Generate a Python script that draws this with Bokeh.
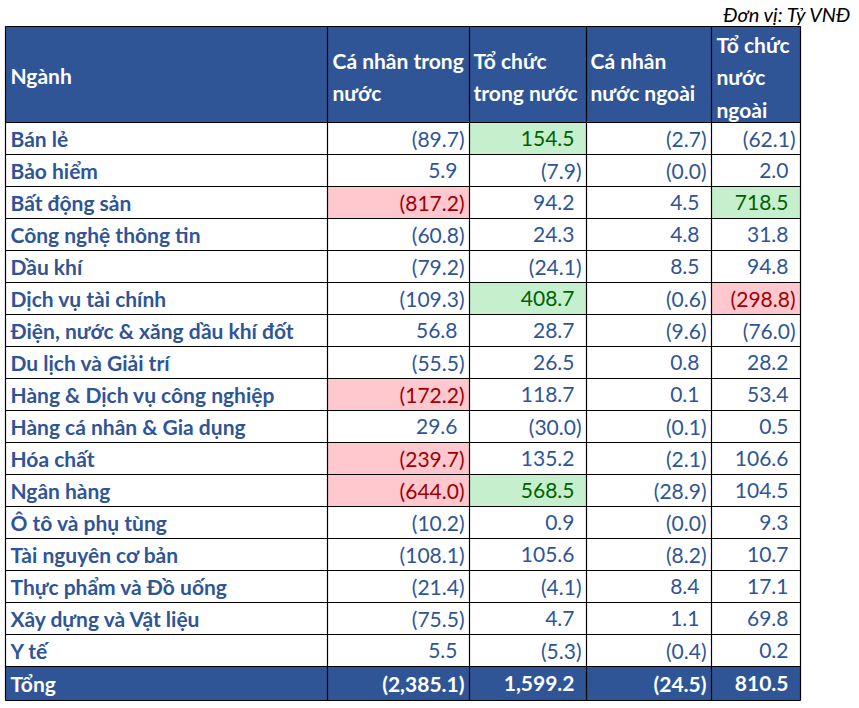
from bokeh.plotting import figure
from bokeh.models import Range1d, ColumnDataSource
from bokeh.core.properties import value
from bokeh.embed import file_html
from bokeh.resources import INLINE

# ---------------- data ----------------
categories = ["Bán lẻ", "Bảo hiểm", "Bất động sản", "Công nghệ thông tin", "Dầu khí",
              "Dịch vụ tài chính", "Điện, nước & xăng dầu khí đốt", "Du lịch và Giải trí",
              "Hàng & Dịch vụ công nghiệp", "Hàng cá nhân & Gia dụng", "Hóa chất",
              "Ngân hàng", "Ô tô và phụ tùng", "Tài nguyên cơ bản", "Thực phẩm và Đồ uống",
              "Xây dựng và Vật liệu", "Y tế"]
ca_nhan_trong_nuoc = [-89.7, 5.9, -817.2, -60.8, -79.2, -109.3, 56.8, -55.5, -172.2, 29.6,
                      -239.7, -644.0, -10.2, -108.1, -21.4, -75.5, 5.5]
to_chuc_trong_nuoc = [154.5, -7.9, 94.2, 24.3, -24.1, 408.7, 28.7, 26.5, 118.7, -30.0,
                      135.2, 568.5, 0.9, 105.6, -4.1, 4.7, -5.3]
ca_nhan_nuoc_ngoai = [-2.7, -0.0, 4.5, 4.8, 8.5, -0.6, -9.6, 0.8, 0.1, -0.1,
                      -2.1, -28.9, -0.0, -8.2, 8.4, 1.1, -0.4]
to_chuc_nuoc_ngoai = [-62.1, 2.0, 718.5, 31.8, 94.8, -298.8, -76.0, 28.2, 53.4, 0.5,
                      106.6, 104.5, 9.3, 10.7, 17.1, 69.8, 0.2]
totals = [-2385.1, 1599.2, -24.5, 810.5]
headers = ["Ngành", "Cá nhân trong\nnước", "Tổ chức\ntrong nước", "Cá nhân\nnước ngoài",
           "Tổ chức\nnước\nngoài"]
total_label = "Tổng"
unit_label = "Đơn vị: Tỷ VNĐ"
# highlighted cells: (row index, column index 1..4)
green_cells = [(0, 2), (5, 2), (11, 2), (2, 4)]
red_cells = [(2, 1), (8, 1), (10, 1), (11, 1), (5, 4)]

series = [ca_nhan_trong_nuoc, to_chuc_trong_nuoc, ca_nhan_nuoc_ngoai, to_chuc_nuoc_ngoai]

# ---------------- layout ----------------
col_edges = [5, 327, 469, 586, 711, 800]
top = 26
header_bottom = 122
row_h = 32
n = len(categories)
total_top = header_bottom + n * row_h
total_bottom = total_top + 34

HEADER_BG = "#2F5597"
TEXT_BLUE = "#2F5597"
GREEN_BG, GREEN_TX = "#C6EFCE", "#006100"
RED_BG, RED_TX = "#FFC7CE", "#9C0006"
FONT = "Lato"
FS = "21px"

p = figure(width=859, height=708, output_backend="svg", toolbar_location=None,
           x_range=Range1d(0, 859), y_range=Range1d(708, 0),
           min_border=0, outline_line_color=None)
p.axis.visible = False
p.grid.visible = False
p.background_fill_color = "white"


def fmt(v):
    s = "{:,.1f}".format(abs(v))
    return "(" + s + ")" if v < 0 or (v == 0 and str(v).startswith("-")) else s


# header & total background
p.quad(left=col_edges[0], right=col_edges[-1], top=top, bottom=header_bottom,
       fill_color=HEADER_BG, line_color=None)
p.quad(left=col_edges[0], right=col_edges[-1], top=total_top, bottom=total_bottom,
       fill_color=HEADER_BG, line_color=None)

# highlighted cells
for cells, col in ((green_cells, GREEN_BG), (red_cells, RED_BG)):
    p.quad(left=[col_edges[c] for r, c in cells], right=[col_edges[c + 1] for r, c in cells],
           top=[header_bottom + r * row_h for r, c in cells],
           bottom=[header_bottom + (r + 1) * row_h for r, c in cells],
           fill_color=col, line_color=None)

# grid lines
ys = [top, header_bottom] + [header_bottom + (i + 1) * row_h for i in range(n)] + [total_bottom]
p.segment(x0=[col_edges[0]] * len(ys), x1=[col_edges[-1]] * len(ys), y0=ys, y1=ys,
          line_color="black", line_width=1.2)
p.segment(x0=col_edges, x1=col_edges, y0=[top] * len(col_edges), y1=[total_bottom] * len(col_edges),
          line_color="black", line_width=1.2)

# headers
hx = [10, 332, 473, 590, 716]
hy = [75, 76, 76, 76, 76]
p.text(x=hx, y=hy, text=headers, text_color="white", text_font=value(FONT),
       text_font_size=FS, text_font_style="bold", text_baseline="middle",
       text_line_height=1.3)

# category labels
cy = [header_bottom + (i + 0.5) * row_h for i in range(n)]
p.text(x=[10] * n, y=cy, text=categories, text_color=TEXT_BLUE, text_font=value(FONT),
       text_font_size=FS, text_font_style="bold", text_baseline="middle")

# values
xs, yv, tv, cv = [], [], [], []
green_set, red_set = set(green_cells), set(red_cells)
for c, vals in enumerate(series, start=1):
    for r, v in enumerate(vals):
        t = fmt(v)
        right = col_edges[c + 1] - 5
        if not t.startswith("("):
            right -= 7
        xs.append(right)
        yv.append(cy[r])
        tv.append(t)
        cv.append(GREEN_TX if (r, c) in green_set else RED_TX if (r, c) in red_set else TEXT_BLUE)
src = ColumnDataSource(dict(x=xs, y=yv, t=tv, c=cv))
p.text(x="x", y="y", text="t", text_color="c", source=src, text_font=value(FONT),
       text_font_size=FS, text_align="right", text_baseline="middle")

# totals
ty = (total_top + total_bottom) / 2
tx, tt = [], []
for c, v in enumerate(totals, start=1):
    t = fmt(v)
    right = col_edges[c + 1] - 5
    if not t.startswith("("):
        right -= 7
    tx.append(right)
    tt.append(t)
p.text(x=tx, y=[ty] * 4, text=tt, text_color="white", text_font=value(FONT),
       text_font_size=FS, text_font_style="bold", text_align="right", text_baseline="middle")
p.text(x=[10], y=[ty], text=[total_label], text_color="white", text_font=value(FONT),
       text_font_size=FS, text_font_style="bold", text_baseline="middle")

# unit label
p.text(x=[852], y=[13], text=[unit_label], text_color="black", text_font=value(FONT),
       text_font_size="20px", text_font_style="italic", text_align="right", text_baseline="middle")

open("out.html", "w").write(file_html(p, INLINE))
